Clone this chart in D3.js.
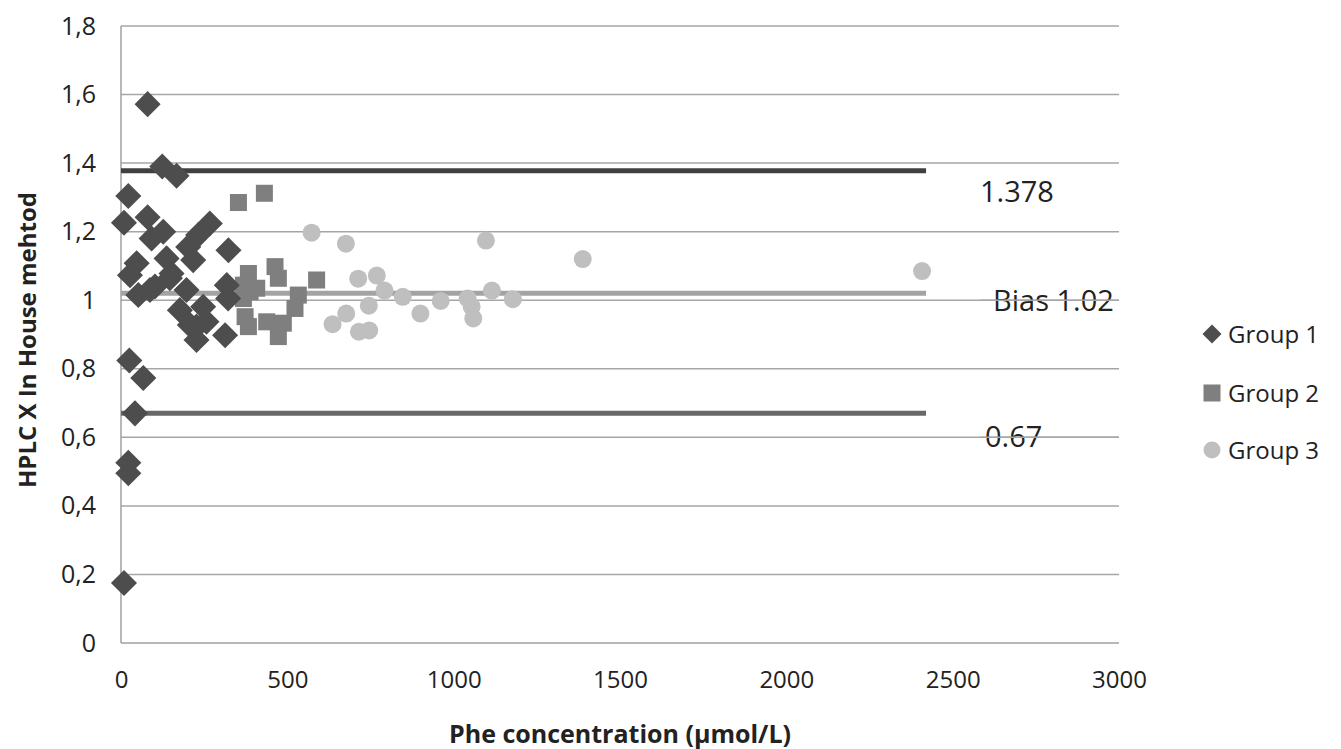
<!DOCTYPE html>
<html>
<head>
<meta charset="utf-8">
<script src="https://cdn.jsdelivr.net/npm/d3@7"></script>
<style>
  body { margin: 0; background: #fff; }
  text { font-family: "Open Sans", "Noto Sans", sans-serif; fill: #222; }
</style>
</head>
<body>
<div id="chart"></div>
<script>
// data: [Phe concentration, ratio]
var group1 = [[9,0.175],[22,0.526],[22,0.495],[25,0.824],[67,0.773],[42,0.67],
    [80,1.572],[124,1.39],[167,1.363],[22,1.304],[9,1.226],[80,1.242],[92,1.18],[127,1.2],
    [267,1.224],[232,1.19],[202,1.155],[217,1.117],[323,1.146],[47,1.108],[137,1.122],
    [152,1.078],[27,1.073],[52,1.015],[87,1.03],[197,1.03],[147,1.064],[177,0.971],
    [247,0.981],[227,0.923],[227,0.884],[313,0.898],[318,1.044],[322,1.005],[257,0.937],
    [207,0.928],[102,1.04]],
    group2 = [[353,1.285],[431,1.312],[383,1.078],[463,1.098],[473,1.064],[588,1.059],
    [388,1.025],[533,1.015],[523,0.976],[373,0.952],[438,0.937],[488,0.933],[473,0.894],
    [383,0.923],[368,1.005],[368,1.044],[408,1.035]],
    group3 = [[573,1.197],[676,1.165],[1097,1.174],[713,1.063],[769,1.072],[792,1.028],
    [847,1.01],[961,0.998],[1042,1.005],[1054,0.981],[1059,0.947],[1115,1.028],[1178,1.003],
    [745,0.984],[677,0.961],[636,0.93],[715,0.908],[746,0.912],[900,0.961],[1388,1.12],
    [2408,1.085]],
    refValues = [1.378, 1.02, 0.67],
    refLabels = ["1.378", "Bias 1.02", "0.67"],
    refEnd = 2420,
    groupNames = ["Group 1", "Group 2", "Group 3"],
    xTicks = [0, 500, 1000, 1500, 2000, 2500, 3000],
    yTicks = [0, 0.2, 0.4, 0.6, 0.8, 1, 1.2, 1.4, 1.6, 1.8];

var W = 1341, H = 749,
    margin = { top: 26, left: 121, right: 222, bottom: 106 },
    colors = ["#4d4d4d", "#7f7f7f", "#bfbfbf"],
    refColors = ["#404040", "#a3a3a3", "#686868"];

var svg = d3.select("#chart").append("svg")
    .attr("width", W)
    .attr("height", H);

var x = d3.scaleLinear().domain([0, 3000]).range([margin.left, W - margin.right]);
var y = d3.scaleLinear().domain([0, 1.8]).range([H - margin.bottom, margin.top]);

// gridlines
svg.selectAll(".grid")
    .data(yTicks.slice(1))
    .enter().append("line")
    .attr("x1", x(0)).attr("x2", x(3000))
    .attr("y1", function(d) { return y(d); })
    .attr("y2", function(d) { return y(d); })
    .attr("stroke", "#a6a6a6")
    .attr("stroke-width", 1.5);

// axes lines
svg.append("line").attr("x1", x(0)).attr("x2", x(0)).attr("y1", y(0)).attr("y2", y(1.8))
    .attr("stroke", "#a0a0a0").attr("stroke-width", 1.5);
svg.append("line").attr("x1", x(0)).attr("x2", x(3000)).attr("y1", y(0)).attr("y2", y(0))
    .attr("stroke", "#a0a0a0").attr("stroke-width", 1.5);

var yAxis = svg.append("g")
    .attr("transform", "translate(" + (x(0) - 22) + ",0)")
    .call(d3.axisLeft(y).tickValues(yTicks).tickSize(0)
        .tickFormat(function(d) { return (Math.round(d * 10) / 10).toString().replace(".", ","); }));
yAxis.select(".domain").remove();
yAxis.selectAll("text").style("font-size", "25px").attr("fill", "#222")
    .style("font-family", "'Open Sans', sans-serif");

var xAxis = svg.append("g")
    .attr("transform", "translate(0," + (y(0) + 34) + ")")
    .call(d3.axisBottom(x).tickValues(xTicks).tickSize(0).tickFormat(d3.format("d")));
xAxis.select(".domain").remove();
xAxis.selectAll("text").style("font-size", "24px").attr("fill", "#222")
    .attr("dy", "0.35em")
    .style("font-family", "'Open Sans', sans-serif");

// reference lines
svg.selectAll(".ref")
    .data(refValues)
    .enter().append("line")
    .attr("x1", x(0)).attr("x2", x(refEnd))
    .attr("y1", function(d) { return y(d); })
    .attr("y2", function(d) { return y(d); })
    .attr("stroke", function(d, i) { return refColors[i]; })
    .attr("stroke-width", 5);

var refLabelPos = [[980, 202], [993, 311], [985, 447]];
svg.selectAll(".refLabel")
    .data(refLabels)
    .enter().append("text")
    .text(function(d) { return d; })
    .attr("x", function(d, i) { return refLabelPos[i][0]; })
    .attr("y", function(d, i) { return refLabelPos[i][1]; })
    .style("font-size", "29px");

// gridlines run through the labels
[1.0, 0.6].forEach(function(v) {
    svg.append("line").attr("x1", 980).attr("x2", x(3000)).attr("y1", y(v)).attr("y2", y(v))
        .attr("stroke", "#a6a6a6").attr("stroke-width", 1.5);
});

// points
svg.selectAll(".g3")
    .data(group3)
    .enter().append("circle")
    .attr("cx", function(d) { return x(d[0]); })
    .attr("cy", function(d) { return y(d[1]); })
    .attr("r", 9)
    .style("fill", colors[2]);

svg.selectAll(".g2")
    .data(group2)
    .enter().append("rect")
    .attr("x", function(d) { return x(d[0]) - 8.5; })
    .attr("y", function(d) { return y(d[1]) - 8.5; })
    .attr("width", 17).attr("height", 17)
    .style("fill", colors[1]);

svg.selectAll(".g1")
    .data(group1)
    .enter().append("path")
    .attr("d", d3.symbol().type(d3.symbolSquare).size(340))
    .attr("transform", function(d) { return "translate(" + x(d[0]) + "," + y(d[1]) + ") rotate(45)"; })
    .style("fill", colors[0]);

// legend
var legend = svg.selectAll(".legend")
    .data(groupNames)
    .enter().append("g")
    .attr("transform", function(d, i) { return "translate(1212," + [334, 393, 450][i] + ")"; });

legend.each(function(d, i) {
    var g = d3.select(this);
    if (i == 0) g.append("path").attr("d", d3.symbol().type(d3.symbolSquare).size(180))
        .attr("transform", "rotate(45)").style("fill", colors[0]);
    if (i == 1) g.append("rect").attr("x", -8.5).attr("y", -8.5).attr("width", 17).attr("height", 17)
        .style("fill", colors[1]);
    if (i == 2) g.append("circle").attr("r", 8.5).style("fill", colors[2]);
});

legend.append("text")
    .text(function(d) { return d; })
    .attr("x", 16)
    .attr("dy", "0.36em")
    .style("font-size", "24px");

// axis titles
svg.append("text")
    .text("Phe concentration (µmol/L)")
    .attr("x", 620).attr("y", 743)
    .style("text-anchor", "middle")
    .style("font-size", "25px").style("font-weight", "bold");

svg.append("text")
    .text("HPLC X In House mehtod")
    .attr("transform", "translate(36,340) rotate(-90)")
    .style("text-anchor", "middle")
    .style("font-size", "24px").style("font-weight", "bold");
</script>
</body>
</html>
